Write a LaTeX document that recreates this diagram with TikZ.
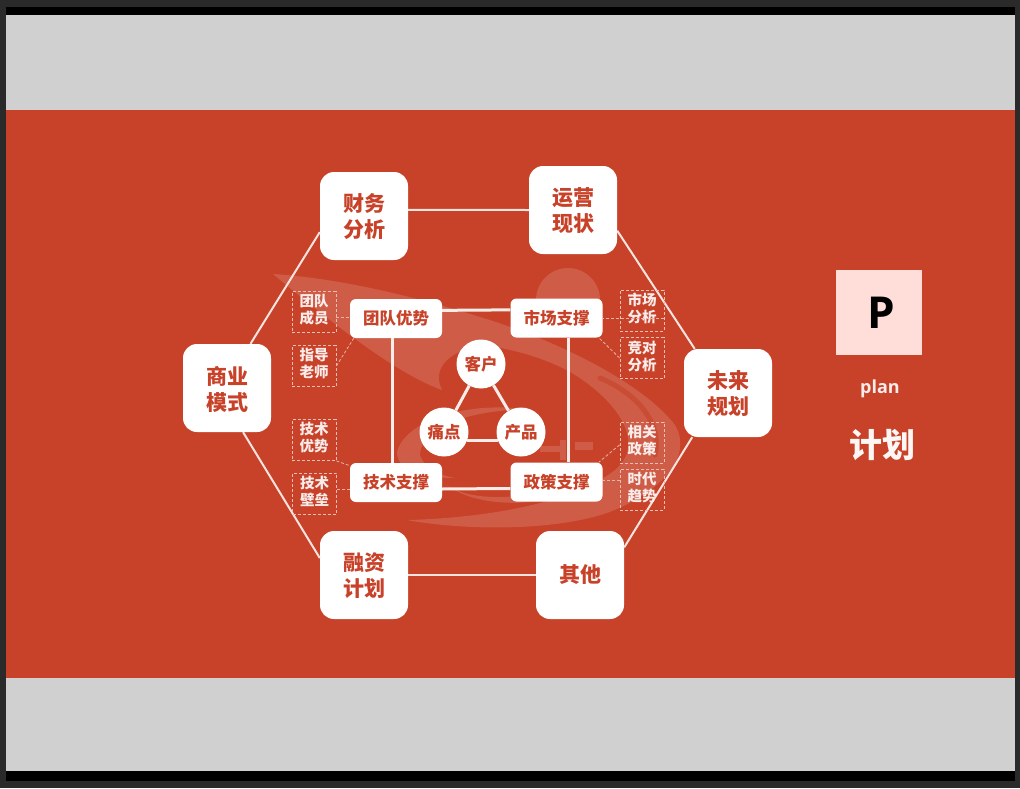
\documentclass[tikz,border=0pt]{standalone}
\usepackage{fontspec}
\setmainfont{Noto Sans CJK SC}
\newfontfamily\latinfont{Open Sans}
\usetikzlibrary{positioning}
\definecolor{SlideRed}{HTML}{C74228}
\definecolor{SlideGrey}{HTML}{D0D0D0}
\definecolor{FrameDark}{HTML}{2A2A2A}
\definecolor{TilePink}{HTML}{FFDED9}
\tikzset{
  hexbox/.style={rectangle, rounded corners=14pt, fill=white, text=SlideRed, minimum width=88pt, minimum height=88pt, inner sep=0pt, text depth=0pt, font=\fontsize{21}{26}\selectfont\bfseries, align=center},
  supportbox/.style={rectangle, rounded corners=6pt, fill=white, text=SlideRed, minimum width=92pt, minimum height=39pt, inner sep=0pt, font=\fontsize{16.5}{19}\selectfont\bfseries, align=center},
  corecircle/.style={circle, fill=white, text=SlideRed, minimum size=49pt, inner sep=0pt, font=\fontsize{16.5}{19}\selectfont\bfseries, align=center},
  notebox/.style={rectangle, draw=white!65!SlideRed, line width=0.8pt, dash pattern=on 3pt off 2pt, text=white!90!SlideRed, minimum width=44pt, minimum height=41pt, inner sep=0pt, text depth=5.5pt, font=\fontsize{14.5}{17}\selectfont\bfseries, align=center},
  hexline/.style={draw=white!85!SlideRed, line width=2pt},
  innerline/.style={draw=white!90!SlideRed, line width=3pt},
  noteline/.style={draw=white!60!SlideRed, line width=0.8pt, dash pattern=on 3pt off 2pt},
  swirl/.style={fill=white, fill opacity=0.14},
  swirlgap/.style={draw=SlideRed, draw opacity=0.6, line width=5pt, line cap=round}
}
\begin{document}
\begin{tikzpicture}[x=1pt, y=-1pt]
  \useasboundingbox (0,0) rectangle (1020,788);
  \fill[FrameDark] (0,0) rectangle (1020,788);
  \fill[black] (6,7) rectangle (1015,781);
  \fill[SlideGrey] (6,15) rectangle (1015,771);
  \fill[SlideRed] (6,110) rectangle (1015,678);

  % faint logo behind the diagram
  \fill[swirl] (273,274) .. controls (340,278) and (420,298) .. (480,317)
    .. controls (550,338) and (640,380) .. (675,425)
    .. controls (695,460) and (655,495) .. (607,513)
    .. controls (550,532) and (460,530) .. (407,520)
    .. controls (480,518) and (570,505) .. (615,470)
    .. controls (650,440) and (610,395) .. (570,372)
    .. controls (545,358) and (510,348) .. (480,345)
    .. controls (455,350) and (430,365) .. (442,390)
    .. controls (400,375) and (340,330) .. (273,274) -- cycle;
  \fill[swirl] (568,300) circle (32);
  \fill[swirl] (397,452) .. controls (405,420) and (470,400) .. (530,410)
    .. controls (480,408) and (420,425) .. (420,455)
    .. controls (425,470) and (440,475) .. (455,478)
    .. controls (420,478) and (397,470) .. (397,452) -- cycle;
  \fill[swirl] (443,482) .. controls (470,505) and (530,500) .. (600,478)
    .. controls (570,505) and (480,515) .. (443,482) -- cycle;
  \fill[swirl] (540,446) rectangle (560,452);
  \fill[swirl] (560,440) rectangle (566,460);
  \fill[swirl] (575,442) rectangle (593,450);
  \draw[swirlgap] (600,378) .. controls (640,395) and (662,425) .. (655,455);

  % outer ring
  \node[hexbox] (caiwu) at (364,216) {财务\\分析};
  \node[hexbox] (yunying) at (573,210) {运营\\现状};
  \node[hexbox] (shangye) at (227,388) {商业\\模式};
  \node[hexbox] (weilai) at (728,393) {未来\\规划};
  \node[hexbox] (rongzi) at (364,575) {融资\\计划};
  \node[hexbox, text depth=2.6pt] (qita) at (580,575) {其他};

  \draw[hexline] (caiwu.8) -- (yunying.west);
  \draw[hexline] (yunying.-25) -- (weilai.127);
  \draw[hexline] (weilai.231) -- (qita.32);
  \draw[hexline] (qita.west) -- (rongzi.east);
  \draw[hexline] (rongzi.159) -- (shangye.-70);
  \draw[hexline] (shangye.62) -- (caiwu.200);

  % support square
  \node[supportbox] (tuandui) at (396,318.5) {团队优势};
  \node[supportbox] (shichang) at (556.5,318) {市场支撑};
  \node[supportbox] (jishu) at (396,482.5) {技术支撑};
  \node[supportbox] (zhengce) at (556.5,482) {政策支撑};

  \draw[innerline] (tuandui.10) -- (shichang.170);
  \draw[innerline] (jishu.-8) -- (zhengce.-172);
  \draw[innerline] ([xshift=-4pt]tuandui.south) -- ([xshift=-4pt]jishu.north);
  \draw[innerline] ([xshift=11.5pt]shichang.south) -- ([xshift=11.5pt]zhengce.north);

  % core triangle
  \node[corecircle] (kehu) at (481,364) {客户};
  \node[corecircle] (tongdian) at (444,432) {痛点};
  \node[corecircle] (chanpin) at (521,432) {产品};

  \draw[innerline] (kehu) -- (tongdian);
  \draw[innerline] (kehu) -- (chanpin);
  \draw[innerline] (tongdian.-19) -- (chanpin.199);

  % side notes
  \node[notebox] (chengyuan) at (314,312) {团队\\成员};
  \node[notebox] (laoshi) at (314,366) {指导\\老师};
  \node[notebox] (youshi) at (314,440) {技术\\优势};
  \node[notebox] (bilei) at (314.5,493.5) {技术\\壁垒};
  \node[notebox] (fenxi) at (642,310.5) {市场\\分析};
  \node[notebox] (jingdui) at (642,358) {竞对\\分析};
  \node[notebox] (zhengcex) at (642,442.5) {相关\\政策};
  \node[notebox] (qushi) at (642,489.5) {时代\\趋势};

  \draw[noteline] (chengyuan.-13) -- (tuandui.west |- chengyuan.-13);
  \draw[noteline] (laoshi.east) -- (tuandui.-155);
  \draw[noteline] (youshi.-43) -- (jishu.160);
  \draw[noteline] (bilei.east |- jishu.-8) -- (jishu.-172);
  \draw[noteline] (fenxi.-19) -- (shichang.east |- fenxi.-19);
  \draw[noteline] (jingdui.west) -- (shichang.-25);
  \draw[noteline] (zhengcex.-174) -- (zhengce.25);
  \draw[noteline] (qushi.157) -- (zhengce.east |- qushi.157);

  % plan tile
  \node[rectangle, fill=TilePink, minimum width=86pt, minimum height=85pt, inner sep=0pt, font=\latinfont\fontsize{44}{50}\selectfont\bfseries] (tile) at (878.5,312.5) {\hspace*{5pt}P};
  \node[text=white!90!SlideRed, font=\latinfont\fontsize{18}{20}\selectfont\bfseries, inner sep=0pt] (plan) at (880,389) {plan};
  \node[text=white!95!SlideRed, font=\fontsize{33}{38}\selectfont\bfseries, inner sep=0pt] (jihua) at (882,445) {计划};
\end{tikzpicture}
\end{document}
